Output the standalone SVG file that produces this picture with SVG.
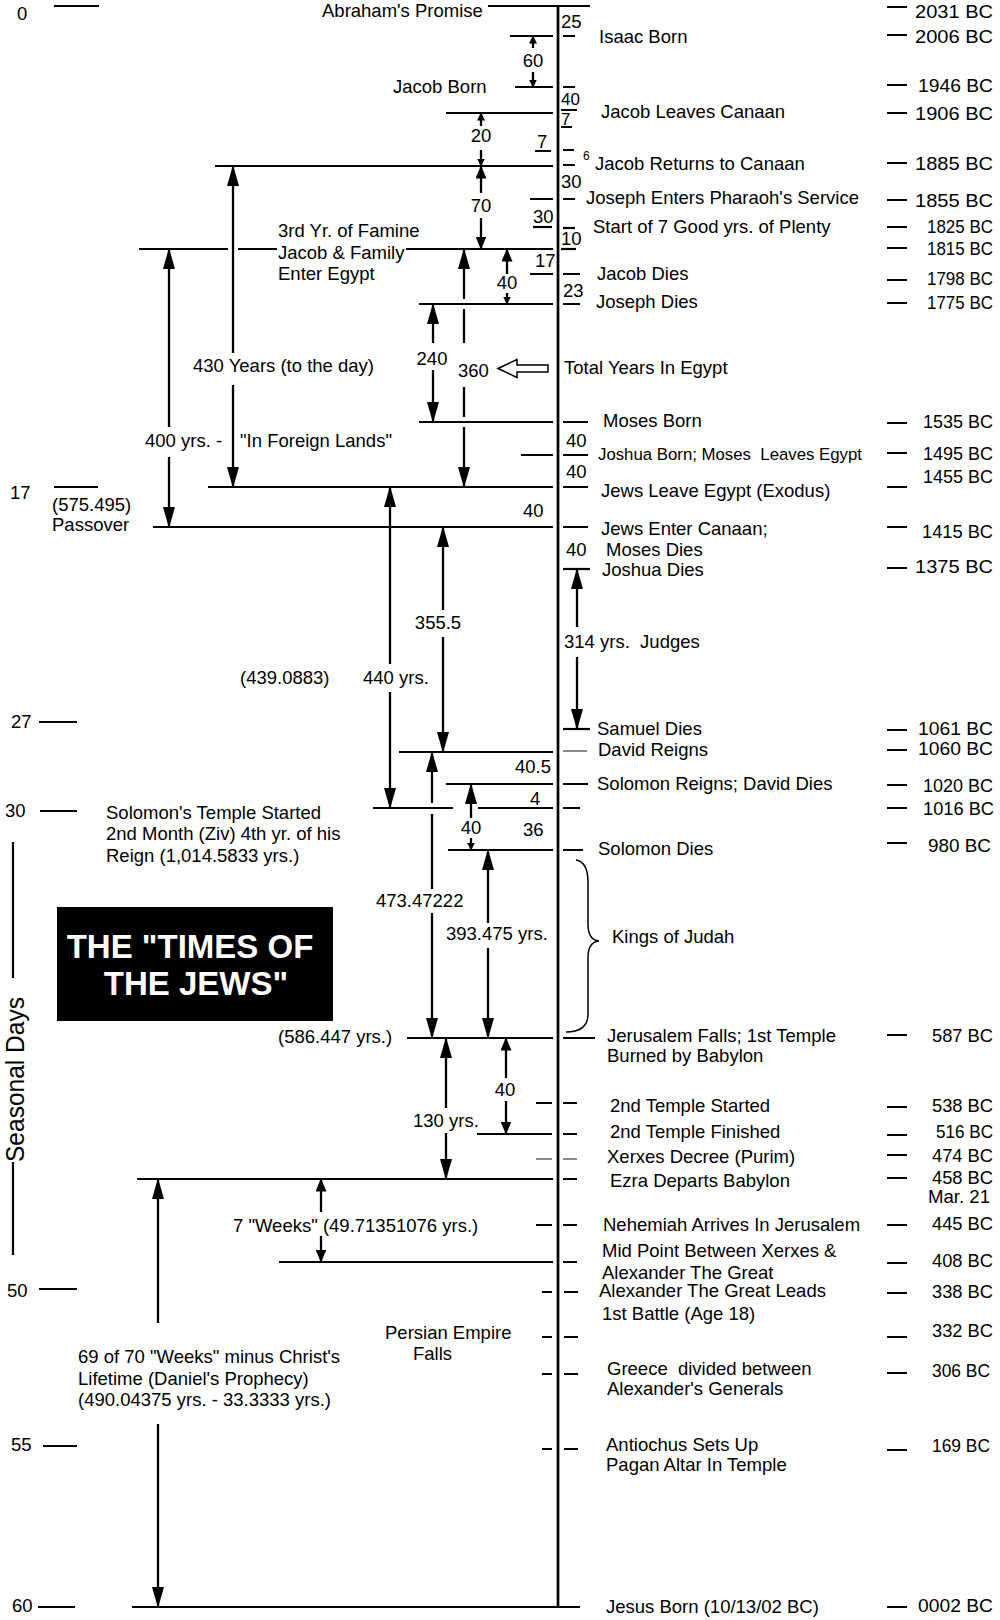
<svg xmlns="http://www.w3.org/2000/svg" width="1000" height="1620" viewBox="0 0 1000 1620">
<style>
text{font-family:"Liberation Sans",Arial,sans-serif;font-size:18.5px;fill:#000}
.m{text-anchor:middle}
.bc{text-anchor:end;font-size:19px}
.sm{font-size:16.8px;white-space:pre}
.pre{white-space:pre}
.ln{stroke:#000;stroke-width:2.2;fill:none}
.gr{stroke:#888;stroke-width:2;fill:none}
.ax{stroke:#000;stroke-width:2.7;fill:none}
.ar{stroke:#000;stroke-width:2.3;fill:none}
.title{font-family:"Liberation Sans",Arial,sans-serif;font-weight:bold;font-size:33px;fill:#fff;text-anchor:middle}
</style>
<defs>
<marker id="hb" markerUnits="userSpaceOnUse" viewBox="0 0 21 12" markerWidth="21" markerHeight="12" refX="20" refY="6" orient="auto-start-reverse"><path d="M0,0 L21,6 L0,12 z" fill="#000"/></marker>
<marker id="hm" markerUnits="userSpaceOnUse" viewBox="0 0 13 11" markerWidth="13" markerHeight="11" refX="12.5" refY="5.5" orient="auto-start-reverse"><path d="M0,0 L13,5.5 L0,11 z" fill="#000"/></marker>
<marker id="hs" markerUnits="userSpaceOnUse" viewBox="0 0 8 8" markerWidth="8" markerHeight="8" refX="7.5" refY="4" orient="auto-start-reverse"><path d="M0,0 L8,4 L0,8 z" fill="#000"/></marker>
</defs>
<rect x="0" y="0" width="1000" height="1620" fill="#fff"/>

<g id="axis">
<path class="ax" d="M558,5 V1608"/>
</g>

<g id="seasonal-scale">
<text x="17" y="20">0</text><path class="ln" d="M54,6 H99"/>
<text x="10" y="499">17</text><path class="ln" d="M54,487 H98"/>
<text x="11" y="728">27</text><path class="ln" d="M39,722 H77"/>
<text x="5" y="817">30</text><path class="ln" d="M40,811 H77"/>
<text x="7" y="1297">50</text><path class="ln" d="M39,1289 H77"/>
<text x="11" y="1451">55</text><path class="ln" d="M43,1446 H77"/>
<text x="12" y="1612">60</text><path class="ln" d="M38,1607 H75"/>
<path class="ln" d="M13,842 V978 M13,1162 V1255"/>
<text transform="translate(24,1162) rotate(-90)" textLength="165" lengthAdjust="spacingAndGlyphs" style="font-size:26px">Seasonal Days</text>
</g>

<g id="bc-dates">
<path class="ln" d="M887,7 H907 M887,35 H907 M887,85 H907 M887,113 H907 M887,163 H907 M887,200 H907 M887,227 H907 M887,248 H907 M887,280 H907 M887,303 H907 M887,423 H907 M887,453 H907 M887,487 H907 M887,527 H907 M887,568 H907 M887,730 H907 M887,750 H907 M887,785 H907 M887,808 H907 M887,843 H907 M887,1035 H907 M887,1107 H907 M887,1135 H907 M887,1155 H907 M887,1178 H907 M887,1225 H907 M887,1263 H907 M887,1293 H907 M887,1337 H907 M887,1373 H907 M887,1450 H907 M887,1607 H907"/>
<text class="bc" x="993" y="18" textLength="78" lengthAdjust="spacingAndGlyphs">2031 BC</text>
<text class="bc" x="993" y="43" textLength="78" lengthAdjust="spacingAndGlyphs">2006 BC</text>
<text class="bc" x="993" y="92" textLength="75" lengthAdjust="spacingAndGlyphs">1946 BC</text>
<text class="bc" x="993" y="120" textLength="78" lengthAdjust="spacingAndGlyphs">1906 BC</text>
<text class="bc" x="993" y="170" textLength="78" lengthAdjust="spacingAndGlyphs">1885 BC</text>
<text class="bc" x="993" y="207" textLength="78" lengthAdjust="spacingAndGlyphs">1855 BC</text>
<text class="bc" x="993" y="233" textLength="66" lengthAdjust="spacingAndGlyphs">1825 BC</text>
<text class="bc" x="993" y="255" textLength="66" lengthAdjust="spacingAndGlyphs">1815 BC</text>
<text class="bc" x="993" y="285" textLength="66" lengthAdjust="spacingAndGlyphs">1798 BC</text>
<text class="bc" x="993" y="309" textLength="66" lengthAdjust="spacingAndGlyphs">1775 BC</text>
<text class="bc" x="993" y="428" textLength="70" lengthAdjust="spacingAndGlyphs">1535 BC</text>
<text class="bc" x="993" y="460" textLength="70" lengthAdjust="spacingAndGlyphs">1495 BC</text>
<text class="bc" x="993" y="483" textLength="70" lengthAdjust="spacingAndGlyphs">1455 BC</text>
<text class="bc" x="993" y="538" textLength="71" lengthAdjust="spacingAndGlyphs">1415 BC</text>
<text class="bc" x="993" y="573" textLength="78" lengthAdjust="spacingAndGlyphs">1375 BC</text>
<text class="bc" x="993" y="735" textLength="75" lengthAdjust="spacingAndGlyphs">1061 BC</text>
<text class="bc" x="993" y="755" textLength="75" lengthAdjust="spacingAndGlyphs">1060 BC</text>
<text class="bc" x="993" y="792" textLength="70" lengthAdjust="spacingAndGlyphs">1020 BC</text>
<text class="bc" x="994" y="815" textLength="71" lengthAdjust="spacingAndGlyphs">1016 BC</text>
<text class="bc" x="991" y="852" textLength="63" lengthAdjust="spacingAndGlyphs">980 BC</text>
<text class="bc" x="993" y="1042" textLength="61" lengthAdjust="spacingAndGlyphs">587 BC</text>
<text class="bc" x="993" y="1112" textLength="61" lengthAdjust="spacingAndGlyphs">538 BC</text>
<text class="bc" x="993" y="1138" textLength="57" lengthAdjust="spacingAndGlyphs">516 BC</text>
<text class="bc" x="993" y="1162" textLength="61" lengthAdjust="spacingAndGlyphs">474 BC</text>
<text class="bc" x="993" y="1184" textLength="61" lengthAdjust="spacingAndGlyphs">458 BC</text>
<text class="bc" x="990" y="1203" textLength="62" lengthAdjust="spacingAndGlyphs">Mar. 21</text>
<text class="bc" x="993" y="1230" textLength="61" lengthAdjust="spacingAndGlyphs">445 BC</text>
<text class="bc" x="993" y="1267" textLength="61" lengthAdjust="spacingAndGlyphs">408 BC</text>
<text class="bc" x="993" y="1298" textLength="61" lengthAdjust="spacingAndGlyphs">338 BC</text>
<text class="bc" x="993" y="1337" textLength="61" lengthAdjust="spacingAndGlyphs">332 BC</text>
<text class="bc" x="990" y="1377" textLength="58" lengthAdjust="spacingAndGlyphs">306 BC</text>
<text class="bc" x="990" y="1452" textLength="58" lengthAdjust="spacingAndGlyphs">169 BC</text>
<text class="bc" x="993" y="1612" textLength="75" lengthAdjust="spacingAndGlyphs">0002 BC</text>
</g>

<g id="abrahams-promise">
<path class="ln" d="M488,6 H590"/>
<text x="322" y="17">Abraham's Promise</text>
<text x="561" y="28">25</text>
</g>
<g id="isaac-born">
<path class="ln" d="M510,36 H553 M563,36 H575"/>
<text x="599" y="43">Isaac Born</text>
</g>
<g id="jacob-born">
<path class="ln" d="M515,87 H553 M563,87 H575"/>
<text x="393" y="93">Jacob Born</text>
<text class="m" x="533" y="67">60</text>
</g>
<g id="jacob-leaves-canaan">
<path class="ln" d="M446,113 H553 M561,110 H577 M561,127 H572"/>
<text x="561" y="105" style="font-size:17px">40</text>
<text x="561" y="125" style="font-size:17px">7</text>
<text x="601" y="118">Jacob Leaves Canaan</text>
<text class="m" x="481" y="142">20</text>
<text x="537" y="148">7</text>
<path class="ln" d="M535,151 H551 M563,150 H574"/>
</g>
<g id="jacob-returns">
<path class="ln" d="M215,166 H553 M563,165 H575"/>
<text x="583" y="160" style="font-size:12px">6</text>
<text x="595" y="170">Jacob Returns to Canaan</text>
<text x="561" y="188">30</text>
<text class="m" x="481" y="212">70</text>
</g>
<g id="joseph-enters-service">
<path class="ln" d="M530,199 H553 M563,199 H575"/>
<text x="586" y="204">Joseph Enters Pharaoh's Service</text>
<text x="533" y="223">30</text>
<path class="ln" d="M533,227 H552"/>
</g>
<g id="seven-good-years">
<path class="ln" d="M563,228 H575"/>
<text x="593" y="233">Start of 7 Good yrs. of Plenty</text>
<text x="561" y="245">10</text>
<path class="ln" d="M561,249 H576"/>
</g>
<g id="jacob-enters-egypt">
<path class="ln" d="M139,249 H228 M238,249 H277 M406,249 H553"/>
<text x="278" y="237">3rd Yr. of Famine</text>
<text x="278" y="259">Jacob &amp; Family</text>
<text x="278" y="280">Enter Egypt</text>
<text x="535" y="267">17</text>
<text class="m" x="507" y="289">40</text>
</g>
<g id="jacob-dies">
<path class="ln" d="M530,274 H553 M563,274 H580"/>
<text x="597" y="280">Jacob Dies</text>
<text x="563" y="297">23</text>
</g>
<g id="joseph-dies">
<path class="ln" d="M419,304 H553 M563,304 H580"/>
<text x="596" y="308">Joseph Dies</text>
</g>
<g id="total-years">
<polygon points="498,368.5 517,359.5 517,365 548,365 548,372 517,372 517,377.5" fill="#fff" stroke="#000" stroke-width="1.5"/>
<text x="564" y="374">Total Years In Egypt</text>
<text class="m" x="432" y="365">240</text>
<text x="458" y="377">360</text>
<text x="193" y="372">430 Years (to the day)</text>
</g>
<g id="moses-born">
<path class="ln" d="M419,422 H553 M563,422 H588"/>
<text x="603" y="427">Moses Born</text>
<text x="566" y="447">40</text>
<text x="145" y="447">400 yrs. -</text>
<text x="240" y="447">"In Foreign Lands"</text>
</g>
<g id="joshua-born">
<path class="ln" d="M521,455 H553 M563,455 H588"/>
<text class="sm" x="598" y="460">Joshua Born; Moses  Leaves Egypt</text>
<text x="566" y="478">40</text>
</g>
<g id="exodus">
<path class="ln" d="M208,487 H553 M563,487 H588"/>
<text x="601" y="497">Jews Leave Egypt (Exodus)</text>
<text x="523" y="517">40</text>
</g>
<g id="enter-canaan">
<path class="ln" d="M153,527 H553 M563,527 H588"/>
<text x="601" y="535">Jews Enter Canaan;</text>
<text x="566" y="556">40</text>
<text x="606" y="556">Moses Dies</text>
<text x="52" y="511">(575.495)</text>
<text x="52" y="531">Passover</text>
</g>
<g id="joshua-dies">
<path class="ln" d="M563,569 H590"/>
<text x="602" y="576">Joshua Dies</text>
<text class="pre" x="564" y="648">314 yrs.  Judges</text>
<text class="m" x="438" y="629">355.5</text>
<text x="240" y="684">(439.0883)</text>
<text x="363" y="684">440 yrs.</text>
</g>
<g id="samuel-dies">
<path class="ln" d="M563,729 H590"/>
<text x="597" y="735">Samuel Dies</text>
</g>
<g id="david-reigns">
<path class="ln" d="M399,752 H553"/>
<path class="gr" d="M563,751 H587"/>
<text x="598" y="756">David Reigns</text>
<text x="515" y="773">40.5</text>
</g>
<g id="solomon-reigns">
<path class="ln" d="M446,784 H553 M563,784 H588"/>
<text x="597" y="790">Solomon Reigns; David Dies</text>
<text x="530" y="805">4</text>
</g>
<g id="solomons-temple">
<path class="ln" d="M373,808 H453 M478,808 H553 M563,808 H580"/>
<text x="106" y="819">Solomon's Temple Started</text>
<text x="106" y="840">2nd Month (Ziv) 4th yr. of his</text>
<text x="106" y="862">Reign (1,014.5833 yrs.)</text>
<text class="m" x="471" y="834">40</text>
<text x="523" y="836">36</text>
</g>
<g id="solomon-dies">
<path class="ln" d="M448,850 H553 M563,850 H583"/>
<text x="598" y="855">Solomon Dies</text>
<text x="376" y="907">473.47222</text>
<text x="446" y="940">393.475 yrs.</text>
</g>
<g id="kings-of-judah">
<path d="M576,860 Q588,862 588,882 L588,924 Q588,940 599,941 Q588,942 588,958 L588,1014 Q588,1032 566,1032" fill="none" stroke="#000" stroke-width="1.5"/>
<text x="612" y="943">Kings of Judah</text>
</g>
<g id="title-box">
<rect x="57" y="907" width="276" height="114" fill="#000"/>
<text class="title" x="190" y="958">THE "TIMES OF</text>
<text class="title" x="196" y="995">THE JEWS"</text>
</g>
<g id="jerusalem-falls">
<path class="ln" d="M407,1038 H553 M563,1038 H595"/>
<text x="607" y="1042">Jerusalem Falls; 1st Temple</text>
<text x="607" y="1062">Burned by Babylon</text>
<text x="278" y="1043">(586.447 yrs.)</text>
<text class="m" x="505" y="1096">40</text>
<text x="413" y="1127">130 yrs.</text>
</g>
<g id="second-temple-started">
<path class="ln" d="M536,1103 H552 M563,1103 H577"/>
<text x="610" y="1112">2nd Temple Started</text>
</g>
<g id="second-temple-finished">
<path class="ln" d="M477,1134 H552 M563,1134 H577"/>
<text x="610" y="1138">2nd Temple Finished</text>
</g>
<g id="xerxes-decree">
<path class="gr" d="M536,1159 H552 M563,1159 H577"/>
<text x="607" y="1163">Xerxes Decree (Purim)</text>
</g>
<g id="ezra-departs">
<path class="ln" d="M137,1179 H553 M563,1179 H577"/>
<text x="610" y="1187">Ezra Departs Babylon</text>
<text x="233" y="1232">7 "Weeks" (49.71351076 yrs.)</text>
</g>
<g id="nehemiah-arrives">
<path class="ln" d="M536,1225 H552 M563,1225 H577"/>
<text x="603" y="1231">Nehemiah Arrives In Jerusalem</text>
</g>
<g id="mid-point">
<path class="ln" d="M279,1262 H553 M563,1262 H577"/>
<text x="602" y="1257">Mid Point Between Xerxes &amp;</text>
<text x="602" y="1279">Alexander The Great</text>
</g>
<g id="alexander-battle">
<path class="ln" d="M542,1292 H552 M564,1292 H578"/>
<text x="599" y="1297">Alexander The Great Leads</text>
<text x="602" y="1320">1st Battle (Age 18)</text>
</g>
<g id="persian-falls">
<path class="ln" d="M542,1337 H552 M564,1337 H578"/>
<text x="385" y="1339">Persian Empire</text>
<text x="413" y="1360">Falls</text>
</g>
<g id="greece-divided">
<path class="ln" d="M542,1374 H552 M564,1374 H578"/>
<text class="pre" x="607" y="1375">Greece  divided between</text>
<text x="607" y="1395">Alexander's Generals</text>
<text x="78" y="1363">69 of 70 "Weeks" minus Christ's</text>
<text x="78" y="1385">Lifetime (Daniel's Prophecy)</text>
<text x="78" y="1406">(490.04375 yrs. - 33.3333 yrs.)</text>
</g>
<g id="antiochus">
<path class="ln" d="M542,1449 H552 M564,1449 H578"/>
<text x="606" y="1451">Antiochus Sets Up</text>
<text x="606" y="1471">Pagan Altar In Temple</text>
</g>
<g id="jesus-born">
<path class="ln" d="M132,1607 H580"/>
<text x="606" y="1613">Jesus Born (10/13/02 BC)</text>
</g>

<g id="connectors">
<path class="ar" d="M533,36 V48" marker-start="url(#hs)"/>
<path class="ar" d="M533,72 V87" marker-end="url(#hs)"/>
<path class="ar" d="M481,113 V126" marker-start="url(#hs)"/>
<path class="ar" d="M481,150 V166" marker-end="url(#hs)"/>
<path class="ar" d="M481,166 V193" marker-start="url(#hm)"/>
<path class="ar" d="M481,218 V249" marker-end="url(#hm)"/>
<path class="ar" d="M233,166 V353" marker-start="url(#hb)"/>
<path class="ar" d="M233,385 V487" marker-end="url(#hb)"/>
<path class="ar" d="M169,249 V427" marker-start="url(#hb)"/>
<path class="ar" d="M169,457 V527" marker-end="url(#hb)"/>
<path class="ar" d="M464,249 V299" marker-start="url(#hb)"/>
<path class="ar" d="M464,309 V343 M464,387 V417"/>
<path class="ar" d="M464,427 V487" marker-end="url(#hb)"/>
<path class="ar" d="M433,304 V343" marker-start="url(#hb)"/>
<path class="ar" d="M433,370 V422" marker-end="url(#hb)"/>
<path class="ar" d="M507,249 V274" marker-start="url(#hm)"/>
<path class="ar" d="M507,293 V304" marker-end="url(#hs)"/>
<path class="ar" d="M390,487 V664" marker-start="url(#hb)"/>
<path class="ar" d="M390,692 V808" marker-end="url(#hb)"/>
<path class="ar" d="M443,527 V610" marker-start="url(#hb)"/>
<path class="ar" d="M443,637 V752" marker-end="url(#hb)"/>
<path class="ar" d="M432,752 V803" marker-start="url(#hb)"/>
<path class="ar" d="M432,814 V889"/>
<path class="ar" d="M432,913 V1038" marker-end="url(#hb)"/>
<path class="ar" d="M471,784 V818" marker-start="url(#hb)"/>
<path class="ar" d="M471,838 V850" marker-end="url(#hs)"/>
<path class="ar" d="M488,850 V923" marker-start="url(#hb)"/>
<path class="ar" d="M488,948 V1038" marker-end="url(#hb)"/>
<path class="ar" d="M577,569 V627" marker-start="url(#hb)"/>
<path class="ar" d="M577,657 V729" marker-end="url(#hb)"/>
<path class="ar" d="M446,1038 V1108" marker-start="url(#hb)"/>
<path class="ar" d="M446,1133 V1179" marker-end="url(#hb)"/>
<path class="ar" d="M506,1038 V1078" marker-start="url(#hm)"/>
<path class="ar" d="M506,1101 V1134" marker-end="url(#hm)"/>
<path class="ar" d="M321,1179 V1212" marker-start="url(#hm)"/>
<path class="ar" d="M321,1236 V1262" marker-end="url(#hm)"/>
<path class="ar" d="M158,1179 V1323" marker-start="url(#hb)"/>
<path class="ar" d="M158,1424 V1607" marker-end="url(#hb)"/>
</g>
</svg>
